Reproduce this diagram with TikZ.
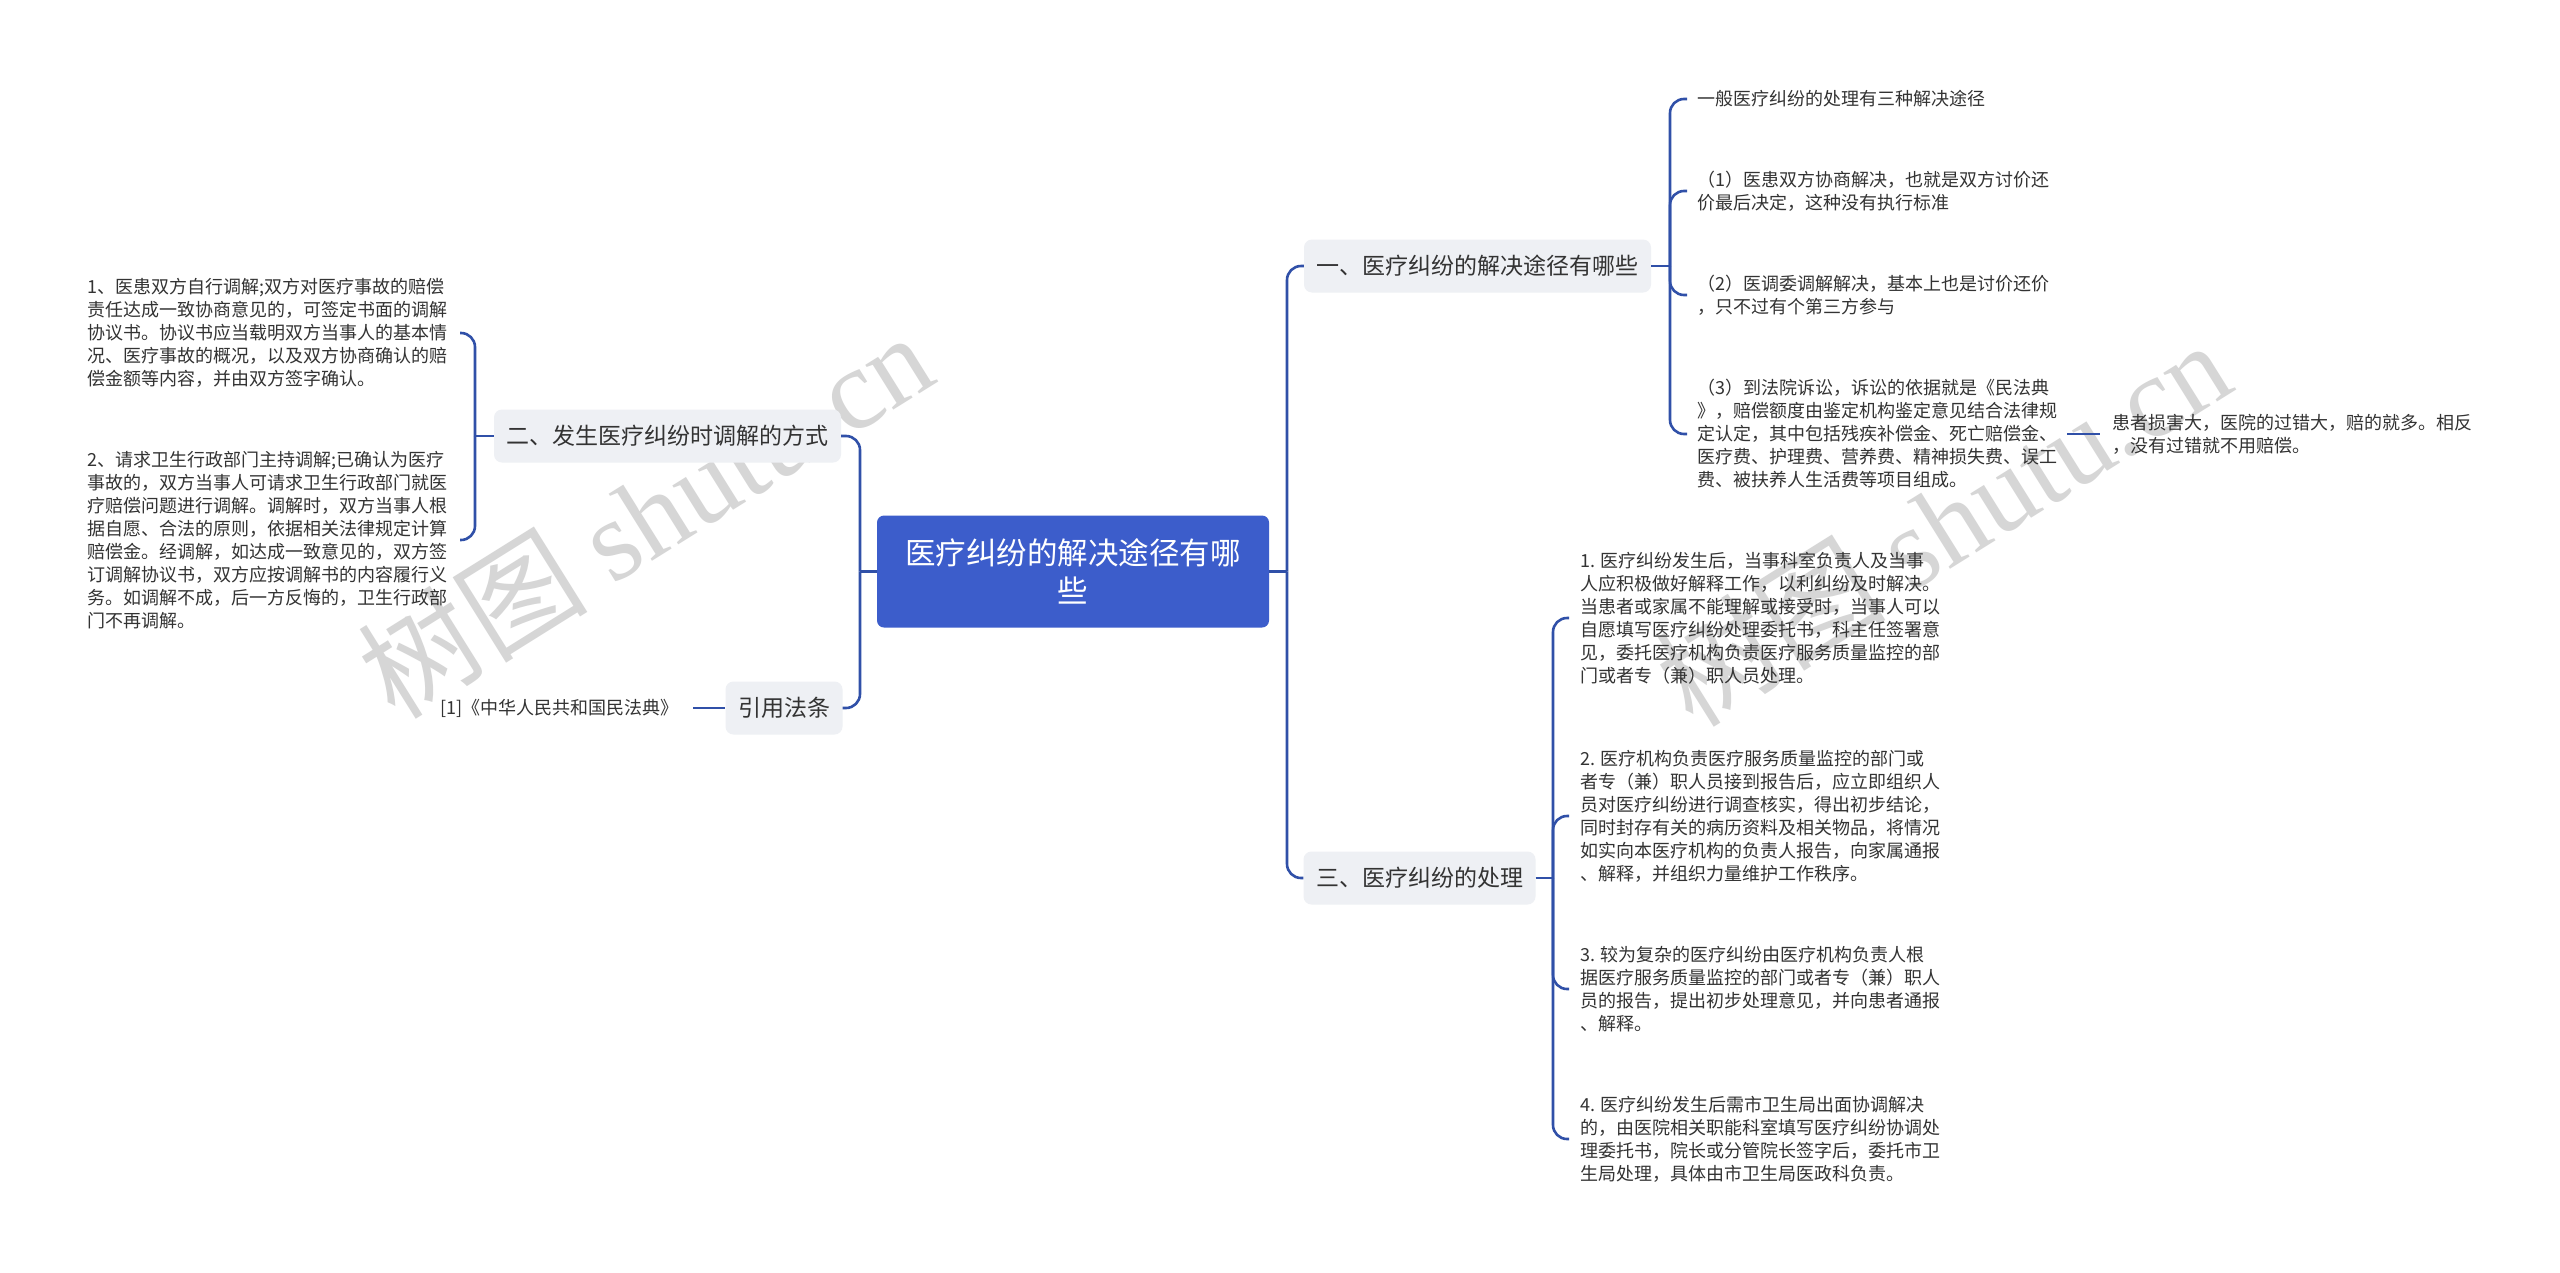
\documentclass[tikz,border=0pt]{standalone}
\usepackage{fontspec}
\setmainfont{Noto Sans CJK SC}
\newfontfamily\wmlatin{Liberation Serif}
\definecolor{lineblue}{HTML}{3050A8}
\definecolor{rootblue}{HTML}{3C5DCB}
\definecolor{branchfill}{HTML}{EEF0F4}
\definecolor{txt}{HTML}{333333}
\definecolor{wmgray}{HTML}{D6D6D6}
\begin{document}
\begin{tikzpicture}[x=1pt,y=-1pt,
  conn/.style={draw=lineblue, line width=2.6pt, rounded corners=14pt},
  rootbox/.style={fill=rootblue, text=white, rounded corners=7pt, minimum width=392pt, minimum height=112pt, align=center, font=\fontsize{30.5pt}{38pt}\selectfont},
  branchbox/.style={fill=branchfill, text=txt, rounded corners=8pt, minimum height=53pt, inner xsep=12.5pt, font=\fontsize{23pt}{28pt}\selectfont},
  leaf/.style={text=txt, align=left, inner ysep=0pt, inner xsep=10pt, font=\fontsize{18pt}{23pt}\selectfont},
  wmark/.style={text=wmgray, rotate=32, font=\fontsize{115pt}{120pt}\selectfont}
]
\useasboundingbox[fill=white] (0,0) rectangle (2560,1272);

% watermarks
\node[wmark] (wm1) at (645,514) {树图 {\wmlatin shutu.cn}};
\node[wmark] (wm2) at (1943,522) {树图 {\wmlatin shutu.cn}};

% root and branches
\node[rootbox] (root) at (1073,571.5) {医疗纠纷的解决途径有哪\\些};
\node[branchbox] (b1) at (1477.5,266) {一、医疗纠纷的解决途径有哪些};
\node[branchbox] (b3) at (1419.5,878) {三、医疗纠纷的处理};
\node[branchbox] (b2) at (667.5,436) {二、发生医疗纠纷时调解的方式};
\node[branchbox] (b4) at (784,708) {引用法条};

\coordinate (jr) at (1287,571.5);
\coordinate (jl) at (860,571.5);
\draw[conn] (root.east) -- (jr);
\draw[conn] (b1.west) -| (jr);
\draw[conn] (b3.west) -| (jr);
\draw[conn] (root.west) -- (jl);
\draw[conn] (b2.east) -| (jl);
\draw[conn] (b4.east) -| (jl);

% branch 1 children
\node[leaf, anchor=west] (c11) at (1687,99) {一般医疗纠纷的处理有三种解决途径};
\node[leaf, anchor=west] (c12) at (1687,191) {（1）医患双方协商解决，也就是双方讨价还\\价最后决定，这种没有执行标准};
\node[leaf, anchor=west] (c13) at (1687,295) {（2）医调委调解解决，基本上也是讨价还价\\，只不过有个第三方参与};
\node[leaf, anchor=west] (c14) at (1687,434) {（3）到法院诉讼，诉讼的依据就是《民法典\\》，赔偿额度由鉴定机构鉴定意见结合法律规\\定认定，其中包括残疾补偿金、死亡赔偿金、\\医疗费、护理费、营养费、精神损失费、误工\\费、被扶养人生活费等项目组成。};
\node[leaf, anchor=west, inner xsep=12pt] (c141) at (2100,434) {患者损害大，医院的过错大，赔的就多。相反\\，没有过错就不用赔偿。};

\coordinate (k1) at (1670,266);
\draw[conn] (b1.east) -- (k1);
\draw[conn] (c11.west) -| (k1);
\draw[conn] (c12.west) -| (k1);
\draw[conn] (c13.west) -| (k1);
\draw[conn] (c14.west) -| (k1);
\draw[conn] (c14.east) -- (c141.west);

% branch 3 children
\node[leaf, anchor=west, inner xsep=11pt] (c31) at (1569,618) {1. 医疗纠纷发生后，当事科室负责人及当事\\人应积极做好解释工作，以利纠纷及时解决。\\当患者或家属不能理解或接受时，当事人可以\\自愿填写医疗纠纷处理委托书，科主任签署意\\见，委托医疗机构负责医疗服务质量监控的部\\门或者专（兼）职人员处理。};
\node[leaf, anchor=west, inner xsep=11pt] (c32) at (1569,816) {2. 医疗机构负责医疗服务质量监控的部门或\\者专（兼）职人员接到报告后，应立即组织人\\员对医疗纠纷进行调查核实，得出初步结论，\\同时封存有关的病历资料及相关物品，将情况\\如实向本医疗机构的负责人报告，向家属通报\\、解释，并组织力量维护工作秩序。};
\node[leaf, anchor=west, inner xsep=11pt] (c33) at (1569,989) {3. 较为复杂的医疗纠纷由医疗机构负责人根\\据医疗服务质量监控的部门或者专（兼）职人\\员的报告，提出初步处理意见，并向患者通报\\、解释。};
\node[leaf, anchor=west, inner xsep=11pt] (c34) at (1569,1139) {4. 医疗纠纷发生后需市卫生局出面协调解决\\的，由医院相关职能科室填写医疗纠纷协调处\\理委托书，院长或分管院长签字后，委托市卫\\生局处理，具体由市卫生局医政科负责。};

\coordinate (k3) at (1553,878);
\draw[conn] (b3.east) -- (k3);
\draw[conn] (c31.west) -| (k3);
\draw[conn] (c32.west) -| (k3);
\draw[conn] (c33.west) -| (k3);
\draw[conn] (c34.west) -| (k3);

% branch 2 children
\node[leaf, anchor=east, inner xsep=12pt] (c21) at (460,333) {1、医患双方自行调解;双方对医疗事故的赔偿\\责任达成一致协商意见的，可签定书面的调解\\协议书。协议书应当载明双方当事人的基本情\\况、医疗事故的概况，以及双方协商确认的赔\\偿金额等内容，并由双方签字确认。};
\node[leaf, anchor=east, inner xsep=12pt] (c22) at (460,540) {2、请求卫生行政部门主持调解;已确认为医疗\\事故的，双方当事人可请求卫生行政部门就医\\疗赔偿问题进行调解。调解时，双方当事人根\\据自愿、合法的原则，依据相关法律规定计算\\赔偿金。经调解，如达成一致意见的，双方签\\订调解协议书，双方应按调解书的内容履行义\\务。如调解不成，后一方反悔的，卫生行政部\\门不再调解。};

\coordinate (k2) at (475,436);
\draw[conn] (b2.west) -- (k2);
\draw[conn] (c21.east) -| (k2);
\draw[conn] (c22.east) -| (k2);

% branch 4 child
\node[leaf, anchor=east, inner xsep=14pt] (c41) at (693,708) {[1]《中华人民共和国民法典》};
\draw[conn] (c41.east) -- (b4.west);
\end{tikzpicture}
\end{document}
